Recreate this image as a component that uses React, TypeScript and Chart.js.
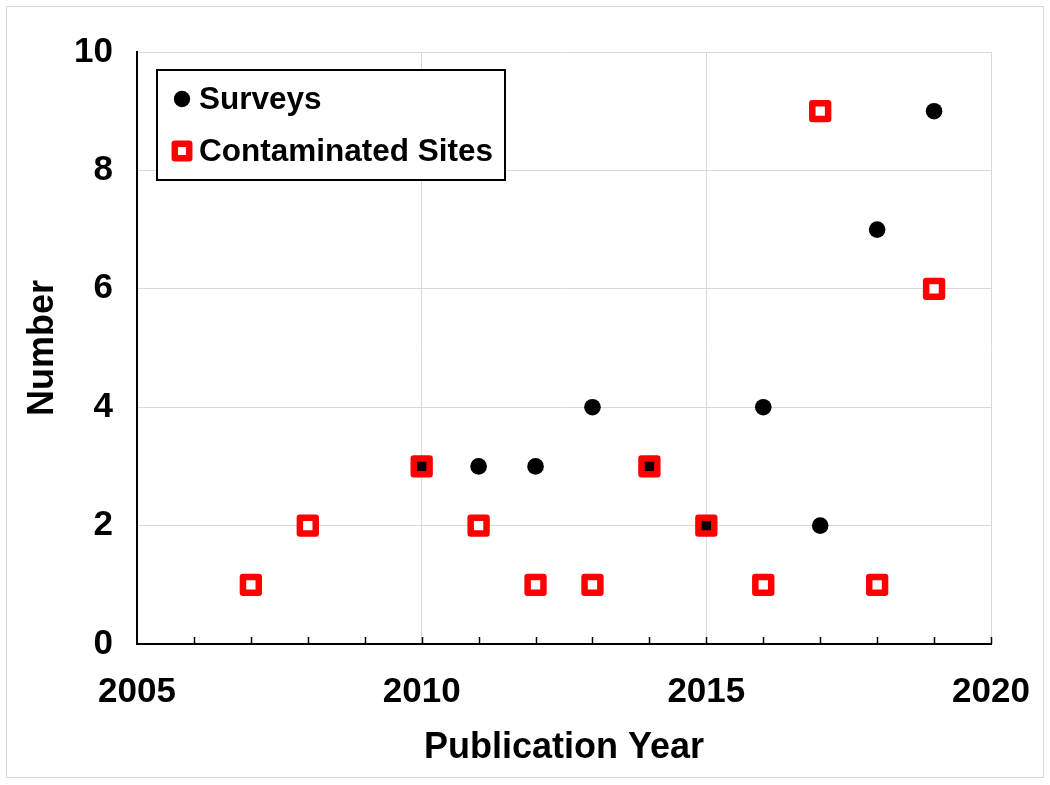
import React, { useEffect, useRef } from 'react';
import { Chart, registerables } from 'chart.js';

Chart.register(...registerables);

// ---- data ----
const seriesNames = ['Surveys', 'Contaminated Sites'];
const surveyYears = [2010, 2011, 2012, 2013, 2014, 2015, 2016, 2017, 2018, 2019];
const surveyCounts = [3, 3, 3, 4, 3, 2, 4, 2, 7, 9];
const siteYears = [2007, 2008, 2010, 2011, 2012, 2013, 2014, 2015, 2016, 2017, 2018, 2019];
const siteCounts = [1, 2, 3, 2, 1, 1, 3, 2, 1, 9, 1, 6];
const xTickLabels = [2005, 2010, 2015, 2020];
const yTickLabels = [0, 2, 4, 6, 8, 10];
const xTitle = 'Publication Year';
const yTitle = 'Number';

const FONT = "'Liberation Sans', Arial, Helvetica, sans-serif";
const RED = '#ff0000';
const GRID = '#d9d9d9';

const surveyPoints = surveyYears.map((x, i) => ({ x, y: surveyCounts[i] }));
const sitePoints = siteYears.map((x, i) => ({ x, y: siteCounts[i] }));

const framePlugin = {
  id: 'frame',
  beforeDraw(chart: any) {
    const { ctx, width, height } = chart;
    ctx.save();
    ctx.fillStyle = '#ffffff';
    ctx.fillRect(0, 0, width, height);
    ctx.strokeStyle = GRID;
    ctx.lineWidth = 1;
    ctx.strokeRect(6.5, 6.5, width - 13, height - 14);
    ctx.restore();
  },
  beforeDatasetsDraw(chart: any) {
    chart.ctx.lineJoin = 'round';
  },
  afterDatasetsDraw(chart: any) {
    chart.ctx.lineJoin = 'miter';
  },
};

const overlayPlugin = {
  id: 'overlay',
  afterDraw(chart: any) {
    const { ctx, chartArea } = chart;
    const xs = chart.scales.x;
    ctx.save();
    // minor inward ticks on x axis
    ctx.strokeStyle = '#000';
    ctx.lineWidth = 1.5;
    for (let v = xs.min + 1; v <= xs.max; v++) {
      const px = Math.round(xs.getPixelForValue(v)) + 0.5;
      ctx.beginPath();
      ctx.moveTo(px, chartArea.bottom);
      ctx.lineTo(px, chartArea.bottom - 7);
      ctx.stroke();
    }
    // legend box
    const left = chartArea.left + 20;
    const top = chartArea.top + 18;
    const w = 348;
    const h = 110;
    ctx.fillStyle = '#fff';
    ctx.fillRect(left, top, w, h);
    ctx.strokeStyle = '#000';
    ctx.lineWidth = 2;
    ctx.strokeRect(left, top, w, h);
    const mx = left + 25;
    const rows = [top + 29, top + 81];
    // circle marker
    ctx.fillStyle = '#000';
    ctx.beginPath();
    ctx.arc(mx, rows[0], 8.2, 0, Math.PI * 2);
    ctx.fill();
    // square marker
    ctx.fillStyle = '#fff';
    ctx.strokeStyle = RED;
    ctx.lineWidth = 6.5;
    ctx.lineJoin = 'round';
    ctx.beginPath();
    ctx.rect(mx - 7.2, rows[1] - 7.2, 14.4, 14.4);
    ctx.fill();
    ctx.stroke();
    ctx.fillStyle = '#000';
    ctx.font = `bold 31.5px ${FONT}`;
    ctx.textBaseline = 'middle';
    ctx.textAlign = 'left';
    seriesNames.forEach((name, i) => ctx.fillText(name, left + 42, rows[i] + 1));
    ctx.restore();
  },
};

export default function App() {
  const ref = useRef<HTMLCanvasElement>(null);
  useEffect(() => {
    document.body.style.margin = '0';
    const canvas = ref.current!;
    const chart = new Chart(canvas, {
      type: 'scatter',
      data: {
        datasets: [
          {
            label: seriesNames[0],
            data: surveyPoints,
            order: 1,
            pointStyle: 'circle',
            pointRadius: 8.3,
            pointHoverRadius: 8.3,
            backgroundColor: '#000',
            borderColor: '#000',
            borderWidth: 0,
          },
          {
            label: seriesNames[1],
            data: sitePoints,
            order: 0,
            pointStyle: 'rect',
            pointRadius: 11.2,
            pointHoverRadius: 11.2,
            borderColor: RED,
            borderWidth: 6.5,
            pointBorderWidth: 6.5,
            backgroundColor: (c: any) => {
              const p = sitePoints[c.dataIndex];
              if (!p) return '#fff';
              return surveyPoints.some((s) => s.x === p.x && s.y === p.y) ? '#000' : '#fff';
            },
          } as any,
        ],
      },
      options: {
        responsive: false,
        animation: false,
        events: [],
        layout: { padding: { left: 0, right: 59, top: 52, bottom: 0 } },
        plugins: {
          legend: { display: false },
          tooltip: { enabled: false },
        },
        scales: {
          x: {
            type: 'linear',
            min: xTickLabels[0],
            max: xTickLabels[xTickLabels.length - 1],
            afterFit: (s: any) => {
              s.height = 141;
              s.paddingLeft = 0;
              s.paddingRight = 0;
              s.paddingTop = 0;
              s.paddingBottom = 0;
            },
            afterBuildTicks: (s: any) => {
              s.ticks = [];
              for (let v = s.min; v <= s.max; v++) s.ticks.push({ value: v });
            },
            ticks: {
              autoSkip: false,
              maxRotation: 0,
              padding: 27,
              color: '#000',
              font: { family: FONT, size: 35, weight: 'bold' },
              callback: (v: any) => (xTickLabels.includes(Number(v)) ? String(v) : ''),
            },
            grid: {
              drawTicks: false,
              color: (c: any) =>
                c.tick && xTickLabels.includes(c.tick.value) && c.tick.value !== xTickLabels[0]
                  ? GRID
                  : 'rgba(0,0,0,0)',
              lineWidth: 1,
            },
            border: { color: '#000', width: 2 },
            title: {
              display: true,
              text: xTitle,
              color: '#000',
              font: { family: FONT, size: 36, weight: 'bold' },
              padding: { top: 0, bottom: 15 },
            },
          },
          y: {
            type: 'linear',
            min: yTickLabels[0],
            max: yTickLabels[yTickLabels.length - 1],
            afterFit: (s: any) => {
              s.width = 137;
              s.paddingLeft = 0;
              s.paddingRight = 0;
              s.paddingTop = 0;
              s.paddingBottom = 0;
            },
            afterBuildTicks: (s: any) => {
              s.ticks = yTickLabels.map((v) => ({ value: v }));
            },
            ticks: {
              padding: 24,
              color: '#000',
              font: { family: FONT, size: 35, weight: 'bold' },
              callback: (v: any) => String(v),
            },
            grid: {
              drawTicks: false,
              color: (c: any) => (c.tick && c.tick.value !== 0 ? GRID : 'rgba(0,0,0,0)'),
              lineWidth: 1,
            },
            border: { color: '#000', width: 2 },
            title: {
              display: true,
              text: yTitle,
              color: '#000',
              font: { family: FONT, size: 36, weight: 'bold' },
              padding: { top: 21, bottom: 0 },
            },
          },
        },
      },
      plugins: [framePlugin, overlayPlugin],
    });
    return () => chart.destroy();
  }, []);
  return (
    <div style={{ position: 'absolute', left: 0, top: 0, width: 1050, height: 785 }}>
      <canvas ref={ref} width={1050} height={785} />
    </div>
  );
}
